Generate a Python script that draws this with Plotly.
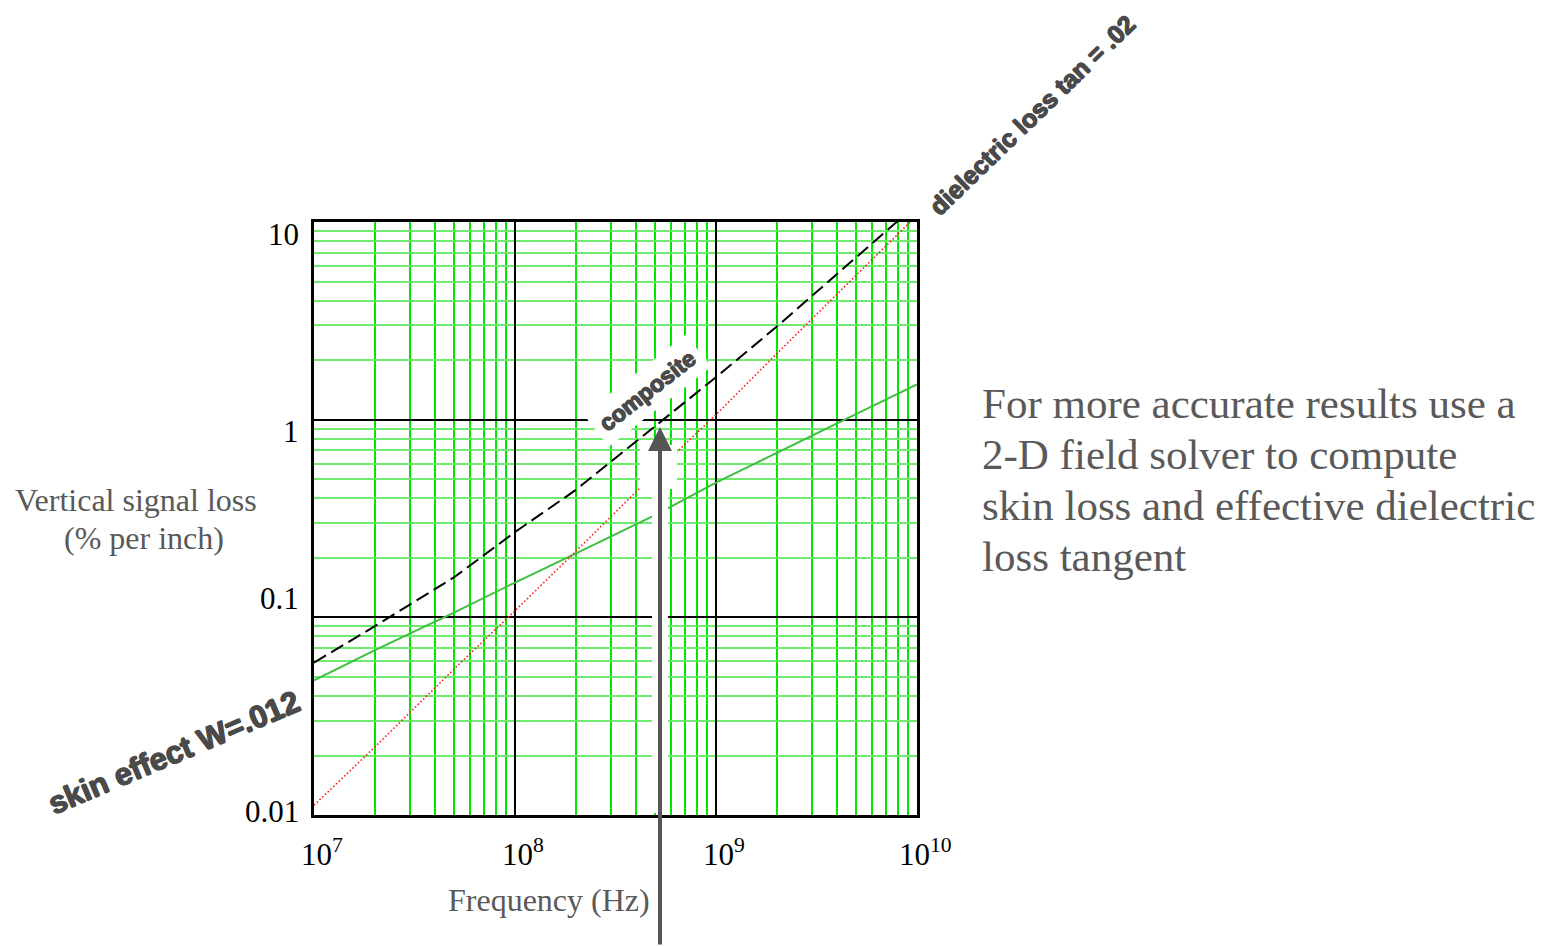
import plotly.graph_objects as go

# ---------------- data ----------------
freq_hz = [1e7, 2e7, 5e7, 1e8, 2e8, 5e8, 1e9, 2e9, 5e9, 1e10]
skin_loss = [0.048, 0.068, 0.106, 0.15, 0.21, 0.33, 0.48, 0.68, 1.07, 1.51]
dielectric_loss = [0.0112, 0.022, 0.055, 0.108, 0.215, 0.54, 1.06, 2.15, 5.4, 10.8]
composite_loss = [0.059, 0.09, 0.16, 0.27, 0.44, 0.93, 1.64, 2.95, 6.6, 12.3]

x_tick_exp = [7, 8, 9, 10]
x_tick_text = ["10<sup>7</sup>", "10<sup>8</sup>", "10<sup>9</sup>", "10<sup>10</sup>"]
y_tick_exp = [-2, -1, 0, 1]
y_tick_text = ["0.01", "0.1", "1", "10"]

x_major_grid = [1e8, 1e9]
y_major_grid = [0.1, 1]
x_minor_grid = [m * 10 ** d for d in (7, 8, 9) for m in range(2, 10)]
y_minor_grid = [m * 10.0 ** d for d in (-2, -1, 0) for m in range(2, 10)]

note_lines = ["For more accurate results use a",
              "2-D field solver to compute",
              "skin loss and effective dielectric",
              "loss tangent"]

# ---------------- layout geometry ----------------
W, H = 1555, 946
L, R, T, B = 314, 917, 222, 815          # plot area in pixels


def px(xp):
    return (xp - L) / (R - L)


def py(yp):
    return (B - yp) / (B - T)


SERIF = "Liberation Serif, Times New Roman, serif"
SANS = "Liberation Sans, Arial, sans-serif"
GRAY = "#595959"
LABEL = "#4a4a4a"
THICK = ("0.7px 0 0 #4a4a4a, -0.7px 0 0 #4a4a4a, 0 0.7px 0 #4a4a4a, "
         "0 -0.7px 0 #4a4a4a")

fig = go.Figure()
fig.add_trace(go.Scatter(x=freq_hz, y=skin_loss, mode="lines",
                         line=dict(color="#3fbf3f", width=2), hoverinfo="skip"))
fig.add_trace(go.Scatter(x=freq_hz, y=dielectric_loss, mode="lines",
                         line=dict(color="#ff2020", width=1.6, dash="1.6px,2.2px"),
                         hoverinfo="skip"))
fig.add_trace(go.Scatter(x=freq_hz, y=composite_loss, mode="lines",
                         line=dict(color="black", width=2, dash="14px,6px"),
                         hoverinfo="skip"))

fig.update_layout(
    width=W, height=H, showlegend=False,
    paper_bgcolor="white", plot_bgcolor="white",
    margin=dict(l=L, r=W - R, t=T, b=H - B, autoexpand=False),
    xaxis=dict(type="log", range=[7, 10], tickvals=x_major_grid, showticklabels=False,
               ticks="", showgrid=True, gridcolor="black", gridwidth=2, zeroline=False,
               showline=True, linecolor="black", linewidth=2.5, mirror=True,
               minor=dict(tickvals=x_minor_grid, showgrid=True, gridcolor="#00e600",
                          gridwidth=1.5, ticks="")),
    yaxis=dict(type="log", range=[-2, 1], tickvals=y_major_grid, showticklabels=False,
               ticks="", showgrid=True, gridcolor="black", gridwidth=2, zeroline=False,
               showline=True, linecolor="black", linewidth=2.5, mirror=True,
               minor=dict(tickvals=y_minor_grid, showgrid=True, gridcolor="#6fea6f",
                          gridwidth=2, ticks="")),
)

# white masks around the pointer arrow
fig.add_shape(type="rect", xref="paper", yref="paper", layer="above",
              x0=px(640), x1=px(677), y0=py(489), y1=py(445),
              fillcolor="white", line=dict(width=0))
fig.add_shape(type="rect", xref="paper", yref="paper", layer="above",
              x0=px(652), x1=px(668), y0=py(813), y1=py(487),
              fillcolor="white", line=dict(width=0))

ann = []
# x tick labels
for e, t in zip(x_tick_exp, x_tick_text):
    ann.append(dict(x=e, xref="x", y=0, yref="paper", text=t, showarrow=False,
                    xanchor="center", yanchor="top", xshift=8, yshift=-16,
                    font=dict(family=SERIF, size=31, color="black")))
# y tick labels (offsets as in the reference)
y_label_shift = [4, 19, -12, -12]
for e, t, s in zip(y_tick_exp, y_tick_text, y_label_shift):
    ann.append(dict(x=px(301), xref="paper", y=e, yref="y", text=t, showarrow=False,
                    xanchor="right", yanchor="middle", yshift=s,
                    font=dict(family=SERIF, size=31, color="black")))
# axis titles
ann.append(dict(x=px(136), y=py(500), xref="paper", yref="paper", text="Vertical signal loss",
                showarrow=False, xanchor="center", yanchor="middle",
                font=dict(family=SERIF, size=32, color=GRAY)))
ann.append(dict(x=px(144), y=py(538), xref="paper", yref="paper", text="(% per inch)",
                showarrow=False, xanchor="center", yanchor="middle",
                font=dict(family=SERIF, size=32, color=GRAY)))
ann.append(dict(x=px(549), y=py(900), xref="paper", yref="paper", text="Frequency (Hz)",
                showarrow=False, xanchor="center", yanchor="middle",
                font=dict(family=SERIF, size=32, color=GRAY)))
# note on the right
for i, line in enumerate(note_lines):
    ann.append(dict(x=px(980), y=py(403 + 51 * i), xref="paper", yref="paper", text=line,
                    showarrow=False, xanchor="left", yanchor="middle",
                    font=dict(family=SERIF, size=43, color=GRAY)))
# curve labels
ann.append(dict(x=px(174), y=py(752), xref="paper", yref="paper", text="<b>skin effect W=.012</b>",
                showarrow=False, textangle=-23, xanchor="center", yanchor="middle",
                font=dict(family=SANS, size=31, color=LABEL, shadow=THICK)))
ann.append(dict(x=px(1032), y=py(115), xref="paper", yref="paper",
                text="<b>dielectric loss tan = .02</b>",
                showarrow=False, textangle=-44, xanchor="center", yanchor="middle",
                font=dict(family=SANS, size=25, color=LABEL, shadow=THICK)))
ann.append(dict(x=px(647), y=py(391), xref="paper", yref="paper", text="<b>composite</b>",
                showarrow=False, textangle=-38, xanchor="center", yanchor="middle",
                bgcolor="white", borderpad=7,
                font=dict(family=SANS, size=23, color=LABEL, shadow=THICK)))
# pointer arrow from below
ann.append(dict(x=px(660), y=py(427), xref="paper", yref="paper", text="",
                showarrow=True, ax=0, ay=H - 427 + 10, arrowhead=2, arrowsize=1.2,
                arrowwidth=4, arrowcolor="#555555"))

fig.update_layout(annotations=ann)

fig.write_html("out.html", config={"displayModeBar": False},
               post_script="document.body.style.margin='0';document.body.style.overflow='hidden';")
